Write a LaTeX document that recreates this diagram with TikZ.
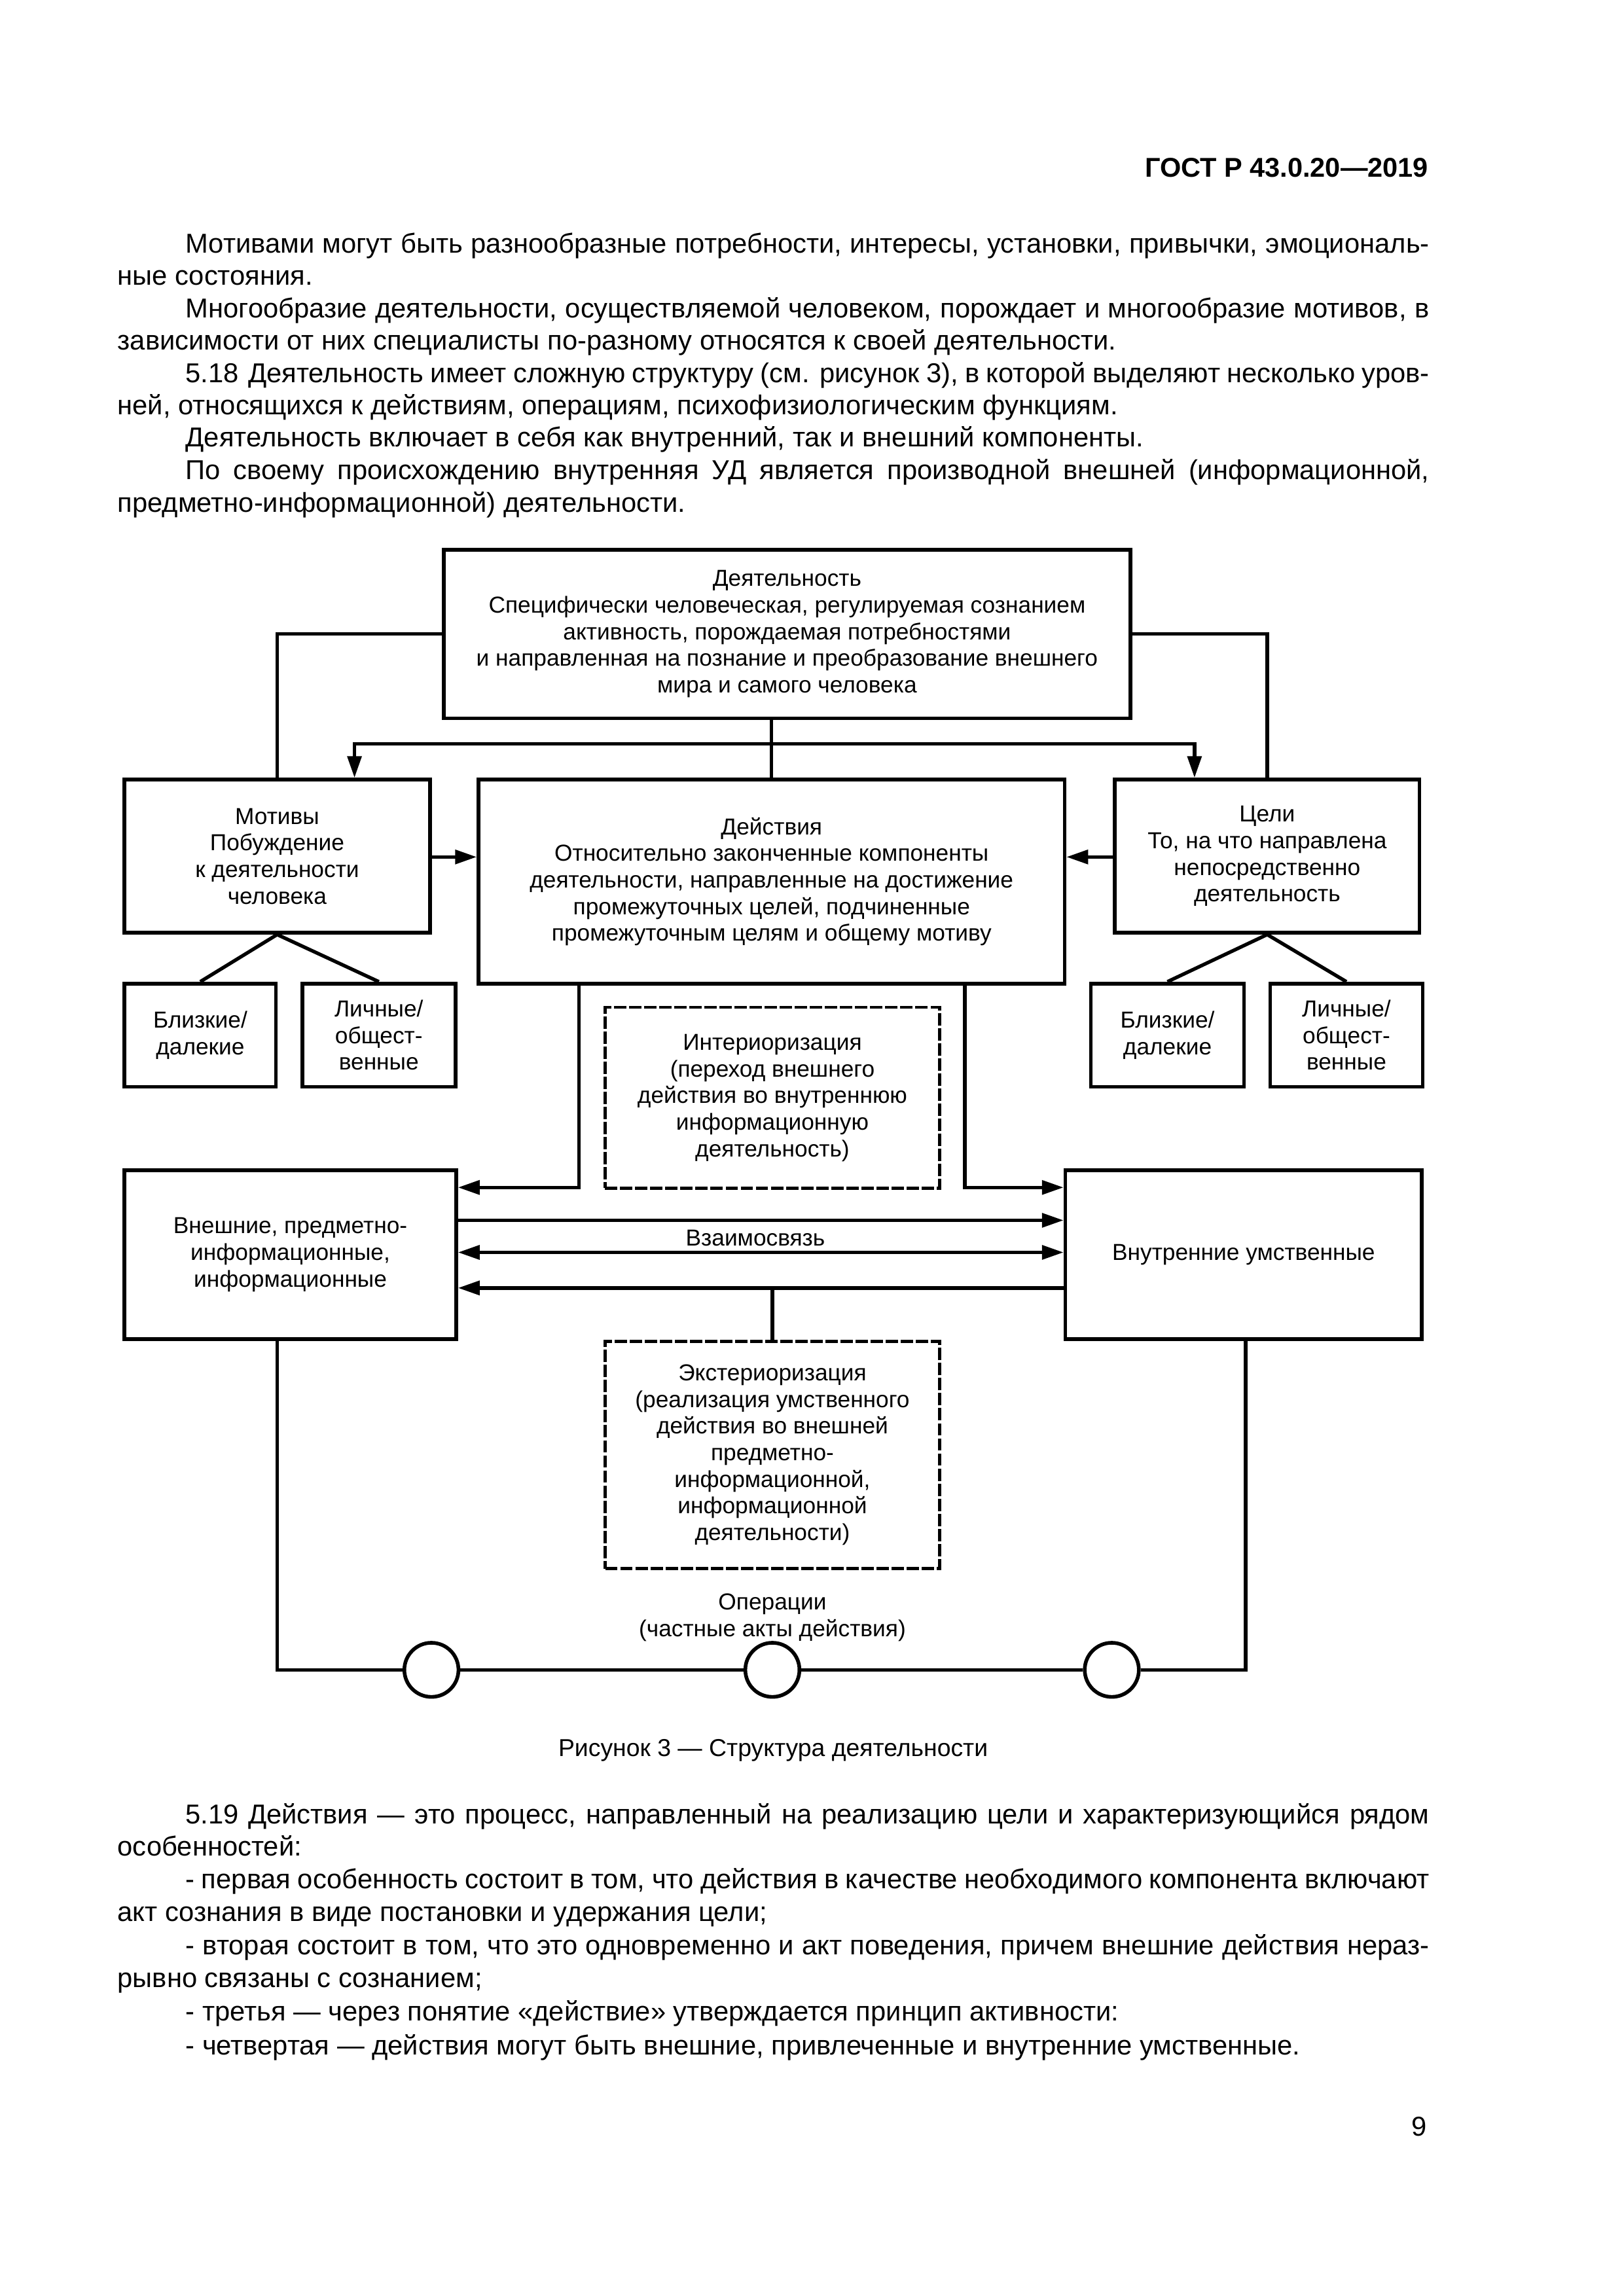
\documentclass[tikz,border=0pt]{standalone}
\usepackage{fontspec}
\setmainfont{Liberation Sans}
\usetikzlibrary{arrows.meta}
\newcommand{\diagfont}{\fontsize{8.5}{9.8}\selectfont}
\newcommand{\bodyfont}{\fontsize{10.05}{11.9}\selectfont}
\newcommand{\fullline}[1]{\makebox[169.65mm][s]{#1}}
\newcommand{\firstind}{\hspace*{8.8mm}}
\begin{document}
\begin{tikzpicture}[x=1mm, y=-1mm,
        box/.style={draw, line width=1.35pt, align=center, inner sep=0pt, font=\diagfont},
        dbox/.style={box, line width=1.1pt, dash pattern=on 1.6mm off 0.35mm},
        opcirc/.style={draw, circle, line width=1.35pt, minimum size=7mm, inner sep=0pt},
        link/.style={line width=1.3pt},
        arr/.style={link, -{Triangle[length=2.8mm,width=1.8mm]}},
        darr/.style={link, {Triangle[length=2.8mm,width=1.8mm]}-{Triangle[length=2.8mm,width=1.8mm]}},
        para/.style={anchor=base west, align=left, inner sep=0pt, font=\bodyfont}]
    \useasboundingbox (0,0) rectangle (210,297);
    \node[anchor=base east, inner sep=0pt, font=\bfseries\fontsize{10}{12}\selectfont] (hdr) at (184.8,22.9) {ГОСТ Р 43.0.20—2019};
    % text above the figure (base = last line)
    \node[para] (p1) at (15.15,36.88) {\fullline{\firstind Мотивами могут быть разнообразные потребности, интересы, установки, привычки, эмоциональ-}\\ные состояния.};
    \node[para] (p2) at (15.15,45.26) {\fullline{\firstind Многообразие деятельности, осуществляемой человеком, порождает и многообразие мотивов, в}\\зависимости от них специалисты по-разному относятся к своей деятельности.};
    \node[para] (p3) at (15.15,53.64) {\fullline{\firstind 5.18\hspace{1.2mm}Деятельность имеет сложную структуру (см. рисунок 3), в которой выделяют несколько уров-}\\ней, относящихся к действиям, операциям, психофизиологическим функциям.};
    \node[para] (p4) at (15.15,57.82) {\firstind Деятельность включает в себя как внутренний, так и внешний компоненты.};
    \node[para] (p5) at (15.15,66.21) {\fullline{\firstind По своему происхождению внутренняя УД является производной внешней (информационной,}\\предметно-информационной) деятельности.};
    % figure
    \node[box, minimum width=88.8mm, minimum height=21.8mm] (act) at (101.8,82.0) {Деятельность\\Специфически человеческая, регулируемая сознанием\\активность, порождаемая потребностями\\и направленная на познание и преобразование внешнего\\мира и самого человека};
    \node[box, minimum width=39.5mm, minimum height=19.8mm] (mot) at (35.85,110.75) {Мотивы\\Побуждение\\к деятельности\\человека};
    \node[box, minimum width=75.8mm, minimum height=26.4mm] (dey) at (99.8,114.05) {Действия\\Относительно законченные компоненты\\деятельности, направленные на достижение\\промежуточных целей, подчиненные\\промежуточным целям и общему мотиву};
    \node[box, minimum width=39.4mm, minimum height=19.8mm] (cel) at (163.9,110.75) {Цели\\То, на что направлена\\непосредственно\\деятельность};
    \node[box, minimum width=19.6mm, minimum height=13.35mm] (bl1) at (25.9,133.9) {Близкие/\\далекие};
    \node[box, minimum width=19.8mm, minimum height=13.35mm] (li1) at (49.0,133.9) {Личные/\\общест-\\венные};
    \node[box, minimum width=19.8mm, minimum height=13.35mm] (bl2) at (151.0,133.9) {Близкие/\\далекие};
    \node[box, minimum width=19.7mm, minimum height=13.35mm] (li2) at (174.15,133.9) {Личные/\\общест-\\венные};
    \node[dbox, minimum width=43.3mm, minimum height=23.4mm] (int) at (99.9,142.0) {Интериоризация\\(переход внешнего\\действия во внутреннюю\\информационную\\деятельность)};
    \node[box, minimum width=42.9mm, minimum height=21.8mm] (ext) at (37.55,162.3) {Внешние, предметно-\\информационные,\\информационные};
    \node[box, minimum width=46.1mm, minimum height=21.8mm] (inn) at (160.85,162.3) {Внутренние умственные};
    \node[font=\diagfont, inner sep=0pt] (lnk) at (97.7,160.1) {Взаимосвязь};
    \node[dbox, minimum width=43.25mm, minimum height=29.4mm] (exr) at (99.9,188.2) {Экстериоризация\\(реализация умственного\\действия во внешней\\предметно-\\информационной,\\информационной\\деятельности)};
    \node[font=\diagfont, align=center, inner sep=0pt] (ops) at (99.9,209.2) {Операции\\(частные акты действия)};
    \node[opcirc] (o1) at (55.8,216.0) {};
    \node[opcirc] (o2) at (99.9,216.0) {};
    \node[opcirc] (o3) at (143.8,216.0) {};
    \coordinate (tl) at (45.85,96.2);
    \coordinate (tr) at (154.5,96.2);
    \coordinate (il) at (74.9,153.6);
    \coordinate (ir) at (124.8,153.6);
    \coordinate (bl) at (35.85,216.0);
    \coordinate (br) at (161.1,216.0);
    \draw[link] (act.west) -| (mot.north);
    \draw[link] (act.east) -| (cel.north);
    \draw[link] (dey.north |- act.south) -- (dey.north);
    \draw[arr] (dey.north |- tl) -- (tl) -- (tl |- mot.north);
    \draw[arr] (dey.north |- tr) -- (tr) -- (tr |- cel.north);
    \draw[arr] (mot.east |- 0,110.85) -- (dey.west |- 0,110.85);
    \draw[arr] (cel.west |- 0,110.85) -- (dey.east |- 0,110.85);
    \draw[link] (mot.south) -- (bl1.north);
    \draw[link] (mot.south) -- (li1.north);
    \draw[link] (cel.south) -- (bl2.north);
    \draw[link] (cel.south) -- (li2.north);
    \draw[arr] (dey.south -| il) -- (il) -- (ext.east |- il);
    \draw[arr] (dey.south -| ir) -- (ir) -- (inn.west |- ir);
    \draw[arr] (ext.east |- 0,157.85) -- (inn.west |- 0,157.85);
    \draw[darr] (ext.east |- 0,162.0) -- (inn.west |- 0,162.0);
    \draw[arr] (inn.west |- 0,166.6) -- (ext.east |- 0,166.6);
    \draw[link] (exr.north |- 0,166.6) -- (exr.north);
    \draw[link] (ext.south -| bl) -- (bl) -- (o1) (o1) -- (o2) (o2) -- (o3) (o3) -- (br) -- (inn.south -| br);
    \node[anchor=base, inner sep=0pt, font=\fontsize{9}{11}\selectfont] (cap) at (100.0,227.2) {Рисунок 3 — Структура деятельности};
    % text below the figure
    \node[para] (p6) at (15.15,240.1) {\fullline{\firstind 5.19\hspace{1.2mm}Действия — это процесс, направленный на реализацию цели и характеризующийся рядом}\\особенностей:};
    \node[para] (p7) at (15.15,248.5) {\fullline{\firstind - первая особенность состоит в том, что действия в качестве необходимого компонента включают}\\акт сознания в виде постановки и удержания цели;};
    \node[para] (p8) at (15.15,257.05) {\fullline{\firstind - вторая состоит в том, что это одновременно и акт поведения, причем внешние действия нераз-}\\рывно связаны с сознанием;};
    \node[para] (p9) at (15.15,261.4) {\firstind - третья — через понятие «действие» утверждается принцип активности:};
    \node[para] (p10) at (15.15,265.8) {\firstind - четвертая — действия могут быть внешние, привлеченные и внутренние умственные.};
    \node[anchor=base east, inner sep=0pt, font=\bodyfont] (pg) at (184.6,276.3) {9};
\end{tikzpicture}
\end{document}
